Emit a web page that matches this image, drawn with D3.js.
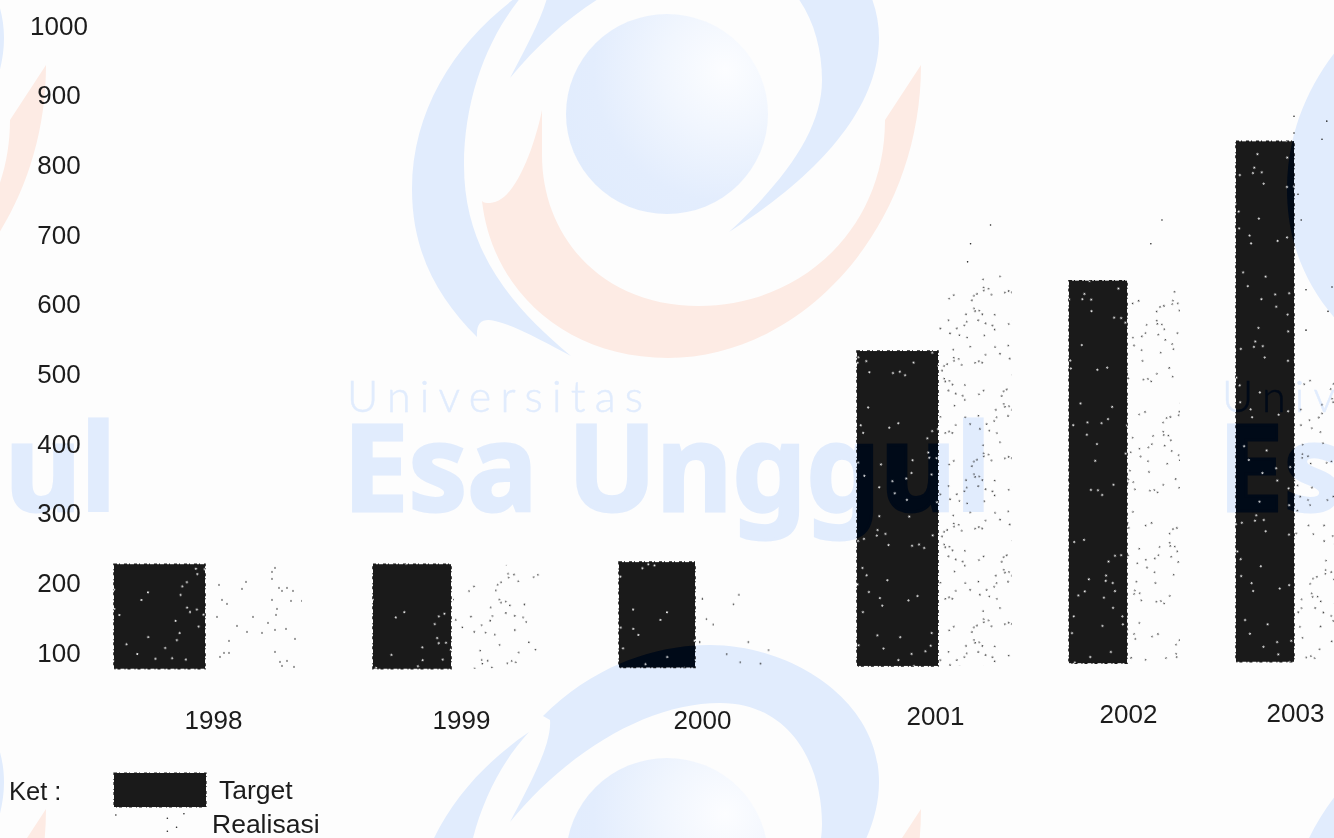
<!DOCTYPE html>
<html><head><meta charset="utf-8">
<style>html,body{margin:0;padding:0;background:#fdfdfd;overflow:hidden}svg{display:block;filter:blur(.4px)}
text{font-family:"Liberation Sans",Arial,sans-serif}
.wb{fill:var(--b)}.wo{fill:var(--o)}.wc{fill:var(--c)}
.wt{fill:var(--b);stroke:var(--b)}</style>
<script src="https://cdn.jsdelivr.net/npm/d3@7/dist/d3.min.js"></script></head><body>
<svg id="c" width="1334" height="838"></svg>
<script>
// ---- data ----
const years = ["1998","1999","2000","2001","2002","2003"];
const target = [226,226,229,532,633,833];
const realisasi = [225,225,215,641,641,526];
const baseValue = [76,76,78,80,84,86];
const yTicks = [100,200,300,400,500,600,700,800,900,1000];
const legendLabels = ["Target","Realisasi"];
// isolated scan specks above the stippled columns: year, fraction across column, value
const speckYear = ["2001","2001","2001","2002","2002","2003","2003","2003","2003","2003","2003","2003","2003","2003","2003"];
const speckFrac = [.71,.44,.40,.66,.45,0,.82,0,.7,.1,.18,.3,.95,.85,.3];
const speckValue = [713,686,660,720,686,869,862,845,836,757,720,620,624,589,562];
// stipple grain read from the 1998 column
const grainX = [60,57,57,4,31,27,64,67,72,78,7,12,57,76,87,62,61,2,38,53,22,32,47,60,71,80,14,60,9,14,5,65,72,67,79];
const grainY = [3,7,14,20,17,24,23,26,23,26,35,39,35,36,36,44,50,52,52,58,61,67,68,65,64,74,76,87,88,88,92,97,96,101,102];
// the few grains under the legend's dark swatch (fractions of the swatch)
const legendGrainX = [.02,.58,.76,.68,.58];
const legendGrainY = [.15,.27,.1,.6,.75];

// ---- layout scales ----
const y = d3.scaleLinear().domain([100,1000]).range([652,25]);
const xTarget = d3.scaleOrdinal(years,[114,373,619,857,1069,1236]);
const wTarget = d3.scaleOrdinal(years,[91,78,76,81,58,58]);
const xReal = d3.scaleOrdinal(years,[215,453,697,938,1127,1294]);
const wReal = d3.scaleOrdinal(years,[87,87,75,74,53,40]);
const xLabel = d3.scaleOrdinal(years,[213,461,702,935,1128,1295]);
const labelBase = d3.scaleOrdinal(years,[729,729,729,725,723,722]);
const grainScale = d3.scaleOrdinal(years,[1,.85,1.35,.72,.8,.85]);
const grainTurn = d3.scaleOrdinal(years,[0,17,0,23,37,29]);

const svg = d3.select("#c");
const defs = svg.append("defs");
const BLUE="#e1ecfd", ORANGE="#fdebe4", BAR="#1a1a1a", TXT="#1c1c1c";

const grad = defs.append("radialGradient").attr("id","ball").attr("gradientUnits","userSpaceOnUse")
  .attr("cx",725).attr("cy",70).attr("r",175);
[[0,"#fcfdff"],[.35,"#f1f6fe"],[.75,"#e3edfd"],[1,"#e1ecfd"]].forEach(s=>grad.append("stop").attr("offset",s[0]).attr("stop-color",s[1]));

function logo(g,withText){
  g.append("path").attr("class","wb").attr("d",
   "M543,-28 C590,-75 650,-99 710,-99 C790,-99 879,-45 879,38 C879,110 815,178 729,232 C785,180 822,130 822,80 C822,20 790,-41 720,-41 C650,-41 570,5 510,78 C530,40 552,0 550,-24 Z");
  g.append("path").attr("class","wb").attr("d",
   "M529,-12 C460,35 412,105 412,189 C412,255 440,300 477,337 C476,322 483,318 495,321 C515,325 550,345 571,356 C510,305 464,250 464,165 C464,95 490,30 529,-12 Z");
  g.append("path").attr("class","wo").attr("d",
   "M542,110 C535,145 515,203 490,203 C486,203 484,203 482,201 C492,290 565,358 668,358 C800,358 921,230 921,65 L885,120 C885,230 800,306 699,306 C600,306 542,235 542,155 Z");
  g.append("ellipse").attr("class","wc").attr("cx",667).attr("cy",114).attr("rx",101).attr("ry",100);
  if(!withText) return;
  g.append("text").attr("class","wt").attr("x",347).attr("y",412).attr("font-size",43).attr("textLength",296)
    .attr("stroke-width",.5).style("font-family","Lato,sans-serif").attr("font-weight",300).text("Universitas");
  g.append("text").attr("class","wt").attr("x",343).attr("y",511).attr("textLength",648).attr("lengthAdjust","spacingAndGlyphs")
    .attr("stroke-width",3).style("font-family","'Noto Sans',sans-serif").attr("font-size",121).attr("font-weight",700)
    .text("Esa Unggul");
}

// stipple patterns, one per year
function pattern(id,color,r,tx,ty,k,turn){
  const p = defs.append("pattern").attr("id",id).attr("patternUnits","userSpaceOnUse")
    .attr("width",90).attr("height",106)
    .attr("patternTransform",`translate(${tx},${ty}) rotate(${turn}) scale(${k})`);
  p.selectAll("circle").data(d3.range(grainX.length)).join("circle")
    .attr("cx",i=>grainX[i]).attr("cy",i=>grainY[i]).attr("r",r/k).attr("fill",color);
}
years.forEach((yr,i)=>{
  pattern("real"+yr,"#222",.8,xReal(yr),y(realisasi[i]),grainScale(yr),grainTurn(yr));
  pattern("spk"+yr,"#ffffff",1.0,xTarget(yr)+i*7,y(target[i])+i*11,1.25,grainTurn(yr)+11);
});

// watermark
const wmHost = svg.append("g").style("--b",BLUE).style("--o",ORANGE).style("--c","url(#ball)");
const wm = wmHost.append("g").attr("id","wm");
[[-875,0,true],[0,0,true],[875,0,true],[-875,744,false],[0,744,false],[875,744,false]].forEach(o=>{
  logo(wm.append("g").attr("transform",`translate(${o[0]},${o[1]})`),o[2]);
});

// realisasi columns
svg.append("g").selectAll("rect").data(years).join("rect")
  .attr("x",d=>xReal(d)).attr("width",d=>wReal(d))
  .attr("y",(d,i)=>y(realisasi[i])).attr("height",(d,i)=>y(baseValue[i])-y(realisasi[i]))
  .attr("fill",d=>`url(#real${d})`);
svg.append("g").selectAll("circle").data(speckYear).join("circle")
  .attr("cx",(d,i)=>xReal(d)+speckFrac[i]*wReal(d)).attr("cy",(d,i)=>y(speckValue[i]))
  .attr("r",.8).attr("fill","#222");

// target bars
const barRects = sel => sel.attr("x",d=>xTarget(d)).attr("width",d=>wTarget(d))
  .attr("y",(d,i)=>y(target[i])).attr("height",(d,i)=>y(baseValue[i])-y(target[i]));
svg.append("g").selectAll("rect").data(years).join("rect").call(barRects)
  .attr("fill",BAR).attr("stroke",BAR).attr("stroke-width",1.6).attr("stroke-dasharray","3 2 1 4");
// watermark showing through the bars
defs.append("clipPath").attr("id","barClip").selectAll("rect").data(years).join("rect").call(barRects);
svg.append("g").attr("clip-path","url(#barClip)")
  .style("--b","#000a18").style("--o",BAR).style("--c",BAR)
  .append("use").attr("href","#wm");
svg.append("g").selectAll("rect").data(years).join("rect").call(barRects)
  .attr("fill",d=>`url(#spk${d})`);

// y axis
const yAxis = svg.append("g").attr("transform","translate(59,0)")
  .call(d3.axisLeft(y).tickValues(yTicks).tickSize(0).tickFormat(d3.format("d")));
yAxis.select(".domain").remove();
yAxis.selectAll("text").attr("x",0).attr("dy",null).attr("dominant-baseline","central")
  .attr("text-anchor","middle").attr("font-size",26).attr("fill",TXT)
  .style("font-family","'Liberation Sans',Arial,sans-serif");

// x labels
const xAxis = svg.append("g").call(d3.axisBottom(xLabel).tickSize(0));
xAxis.select(".domain").remove();
xAxis.selectAll("text").attr("y",d=>labelBase(d)).attr("dy",null)
  .attr("font-size",26).attr("fill",TXT).style("font-family","'Liberation Sans',Arial,sans-serif");

// legend
svg.append("text").attr("x",9).attr("y",800).attr("font-size",25.5).attr("fill",TXT).text("Ket :");
svg.append("rect").attr("x",114).attr("y",773).attr("width",92).attr("height",34).attr("fill",BAR)
  .attr("stroke",BAR).attr("stroke-width",1.2).attr("stroke-dasharray","3 2 1 4");
const swatch = d3.scaleLinear().range([114,206]), swatchY = d3.scaleLinear().range([811,838]);
svg.append("g").selectAll("circle").data(legendGrainX).join("circle")
  .attr("cx",d=>swatch(d)).attr("cy",(d,i)=>swatchY(legendGrainY[i])).attr("r",.8).attr("fill","#222");
svg.append("text").attr("x",219).attr("y",799).attr("font-size",26.5).attr("fill",TXT).text(legendLabels[0]);
svg.append("text").attr("x",212).attr("y",833).attr("font-size",26.5).attr("fill",TXT).text(legendLabels[1]);
</script></body></html>
